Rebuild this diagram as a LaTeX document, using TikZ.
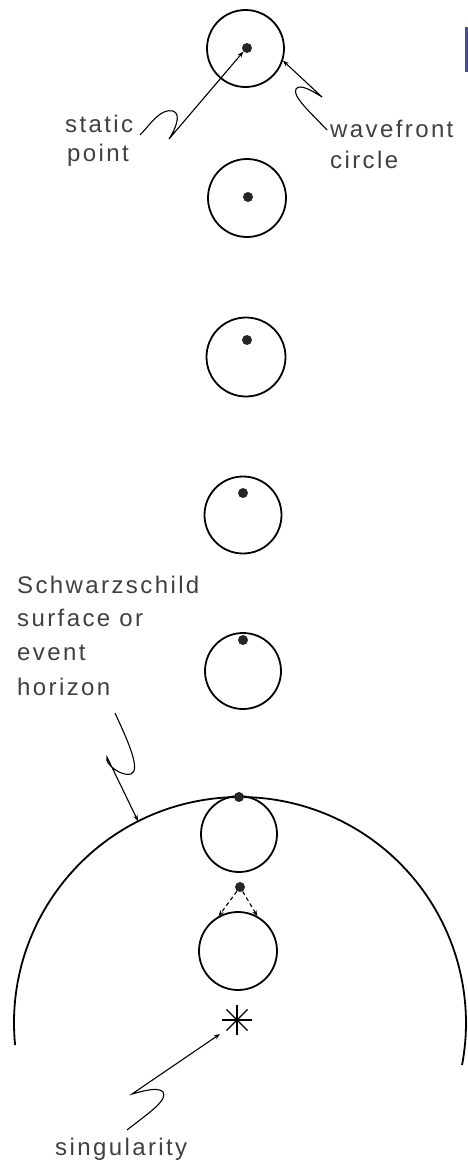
\documentclass[tikz,border=0pt]{standalone}
\usepackage{fontspec}
\newfontfamily\labfont{Liberation Sans}[LetterSpace=10]
\usetikzlibrary{arrows.meta}
\definecolor{barblue}{RGB}{68,72,170}
\begin{document}
\begin{tikzpicture}[x=1pt,y=-1pt,
  ring/.style={draw, circle, line width=1.8pt, inner sep=0pt, minimum size=#1},
  dot/.style={fill=black!85, circle, inner sep=0pt, minimum size=#1},
  lab/.style={font=\labfont\fontsize{24}{28}\selectfont, text=black!75, inner sep=0pt, anchor=base west},
  lead/.style={line width=1.1pt},
  tipa/.style={-{Stealth[length=6pt,width=4.5pt]}}]
\fill[white] (0,0) rectangle (468,1165);
\useasboundingbox (0,0) rectangle (468,1165);
\fill[barblue] (465,27) rectangle (468,72);

% wavefront circles and static points
\node[ring=77pt] (c1) at (245.5,48.5) {};
\node[dot=10pt] (d1) at (247,48) {};
\node[ring=78pt] (c2) at (247,198) {};
\node[dot=10pt] (d2) at (248,197) {};
\node[ring=79pt] (c3) at (246,357) {};
\node[dot=10pt] (d3) at (247,340) {};
\node[ring=77pt] (c4) at (243,515) {};
\node[dot=10pt] (d4) at (243,493) {};
\node[ring=76pt] (c5) at (243,671) {};
\node[dot=10pt] (d5) at (243,640) {};
\node[ring=76pt] (c6) at (239,834) {};
\node[ring=78pt] (c7) at (238,951) {};
\node[dot=10pt] (d7) at (240,887) {};

% event horizon
\coordinate (bh) at (240,1023);
\draw[line width=1.8pt] (bh) ++(174.4:226) arc[start angle=174.4, end angle=370.7, radius=226];
\node[dot=10pt] (d6) at (239,797) {};

% light cone of the point inside
\draw[lead, dashed, dash pattern=on 4pt off 3pt, tipa] (d7) -- (c7.119);
\draw[lead, dashed, dash pattern=on 4pt off 3pt, tipa] (d7) -- (c7.61);

% singularity
\node[dot=5pt] (sd) at (237,1020) {};
\foreach \a in {0,45,90,135}
  \draw[line width=1.3pt] ([shift={(\a:15)}]sd.center) -- ([shift={(\a+180:15)}]sd.center);

% labels
\node[lab] (static) at (65,132) {static};
\node[lab] (point) at (67,161) {point};
\node[lab] (wavefront) at (330,137) {wavefront};
\node[lab] (circle) at (330,168) {circle};
\node[lab] (h1) at (17,593) {Schwarzschild};
\node[lab] (h2) at (17,626) {surface or};
\node[lab] (h3) at (17,660) {event};
\node[lab] (h4) at (17,695) {horizon};
\node[lab] (singularity) at (55,1155) {singularity};

% leaders
\coordinate (sp0) at (140,135);
\draw[lead, tipa] (sp0) .. controls (150,125) and (160,108) .. (173,111)
  .. controls (182,114) and (175,130) .. (169,139) -- (d1.south west);

\coordinate (wf0) at (327,130);
\draw[lead, tipa] (wf0) .. controls (310,112) and (292,96) .. (296,89)
  .. controls (300,83) and (314,92) .. (322,97) -- (c1.-18);

\coordinate (hz0) at (115,713);
\coordinate (hzt) at (138,821);
\draw[lead, tipa] (hz0) .. controls (125,735) and (142,770) .. (131,774)
  .. controls (122,777) and (104,764) .. (107,757) -- (hzt);

\coordinate (sg0) at (127,1130);
\coordinate (sgt) at (220,1034);
\draw[lead, tipa] (sg0) .. controls (150,1112) and (168,1100) .. (163,1092)
  .. controls (158,1086) and (140,1092) .. (132,1094) -- (sgt);
\end{tikzpicture}
\end{document}
